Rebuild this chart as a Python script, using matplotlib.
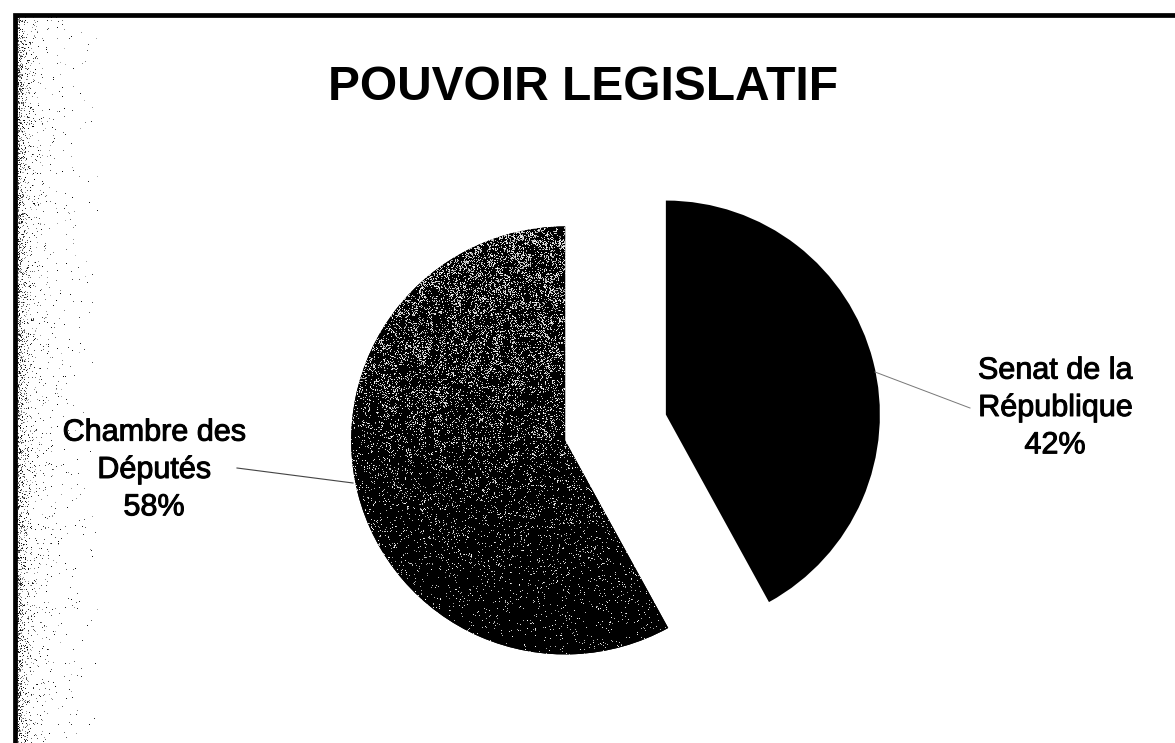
import numpy as np
import matplotlib.pyplot as plt
import matplotlib.patheffects as pe
from matplotlib.patches import Rectangle

plt.rcParams['font.family'] = ['Liberation Sans', 'DejaVu Sans']

W, H = 1175, 743

labels = ['Senat de la\nRépublique', 'Chambre des\nDéputés']
shares = [42, 58]
title = 'POUVOIR LEGISLATIF'

fig = plt.figure(figsize=(W / 100, H / 100), dpi=100)
ax = fig.add_axes([0, 0, 1, 1])

# exploded pie, both slices pushed apart along their bisectors
wedges, _ = ax.pie(shares, colors=['black', 'black'], startangle=90,
                   counterclock=False, explode=[52, 52], radius=214,
                   center=(615.5, H - 427.5),
                   wedgeprops=dict(linewidth=0))

ax.set_xlim(0, W)
ax.set_ylim(0, H)
ax.set_aspect('equal')
ax.axis('off')

rng = np.random.default_rng(3)

# speckled fill for the Chambre slice, lighter toward the top, mottled
grey = wedges[1]
bb = grey.get_path().get_extents(grey.get_patch_transform())
x0, x1 = int(bb.x0) - 2, int(bb.x1) + 2
y0, y1 = int(bb.y0) - 2, int(bb.y1) + 2
ny, nx = y1 - y0, x1 - x0
blk = 7
coarse = rng.random((ny // blk + 2, nx // blk + 2))
mottle = np.kron(coarse, np.ones((blk, blk)))[:ny, :nx]
rows = np.linspace(1, 0, ny)[:, None]          # 1 at top, 0 at bottom
p_white = (0.03 + 0.30 * rows ** 1.6) * (0.3 + 1.4 * mottle)
tex = (rng.random((ny, nx)) < p_white).astype(float)
tex = tex * (0.6 + 0.4 * rng.random((ny, nx)))
im = ax.imshow(tex, cmap='gray', vmin=0, vmax=1, interpolation='nearest',
               extent=(x0, x1, y0, y1), origin='upper', zorder=2)
im.set_clip_path(grey)

# grainy scanner band along the left border
bx0, bx1 = 14, 100
cols = np.arange(bx0, bx1)[None, :] - bx0
p_dark = 0.75 * np.exp(-cols / 5.0) + 0.10 * np.exp(-cols / 22.0)
band = 1 - (rng.random((H, bx1 - bx0)) < p_dark) * (0.3 + 0.7 * rng.random((H, bx1 - bx0)))
ax.imshow(band, cmap='gray', vmin=0, vmax=1, interpolation='nearest',
          extent=(bx0, bx1, 0, H - 16), origin='upper', zorder=1)

# outer frame, running off the right and bottom edges
ax.add_patch(Rectangle((14.5, -20), W + 20, H - 15 + 20, fill=False,
                       edgecolor='black', linewidth=3.4, zorder=5))

ax.text(583, H - 87, title, ha='center', va='center', fontsize=34.5,
        fontweight='bold', color='black')

# slice labels with thin leader lines
heavy = [pe.withStroke(linewidth=0.7, foreground='black')]
ax.text(1055, H - 408, f'{labels[0]}\n{shares[0]}%', ha='center', va='center',
        fontsize=22, linespacing=1.32, color='black', path_effects=heavy)
ax.plot([875, 970], [H - 372, H - 408], color='#777777', linewidth=0.7, zorder=3)

ax.text(154, H - 470, f'{labels[1]}\n{shares[1]}%', ha='center', va='center',
        fontsize=22, linespacing=1.32, color='black', path_effects=heavy)
ax.plot([237, 353], [H - 468, H - 483], color='#444444', linewidth=0.8, zorder=3)

fig.savefig('out.png', dpi=100, facecolor='white')
